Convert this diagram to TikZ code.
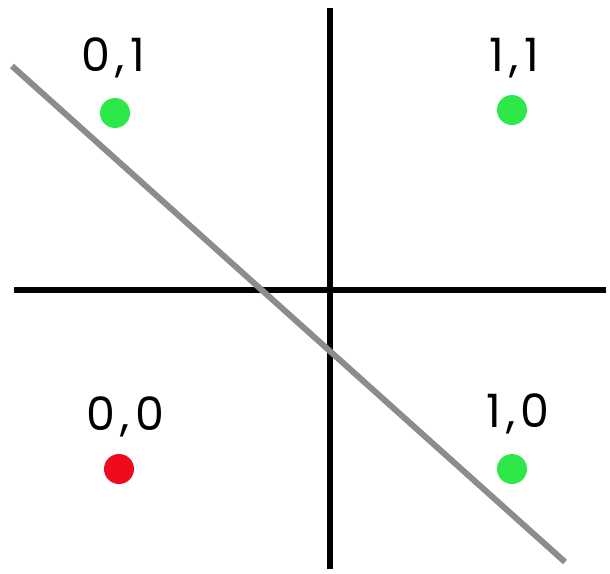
\documentclass[tikz,border=0pt]{standalone}
\usepackage{fontspec}
\setmainfont{Poppins}
\usepackage{tikz}
\definecolor{ongreen}{RGB}{44,232,72}
\definecolor{offred}{RGB}{240,10,30}

\begin{document}
\begin{tikzpicture}[x=1pt,y=-1pt,
    every node/.style={font=\fontsize{46}{50}\selectfont\addfontfeature{LetterSpace=12}},
    pt/.style={circle,inner sep=0pt,minimum size=30pt},
    axis/.style={line width=6pt},
    cut/.style={line width=6pt,color=gray!90}]
  \useasboundingbox (0,0) rectangle (610,573);
  % axes
  \coordinate (top) at (330,8);
  \coordinate (bot) at (330,569);
  \coordinate (lft) at (14,290);
  \coordinate (rgt) at (606,290);
  \draw[axis] (top) -- (bot);
  \draw[axis] (lft) -- (rgt);
  % the four inputs
  \node[pt,fill=ongreen] (p01) at (115,113) {};
  \node[pt,fill=ongreen] (p11) at (512,110) {};
  \node[pt,fill=offred] (p00) at (119,469) {};
  \node[pt,fill=ongreen] (p10) at (512,469) {};
  \node (l01) at (113,58) {0,1};
  \node (l11) at (514,58) {1,1};
  \node (l00) at (125,417) {0,0};
  \node (l10) at (518,414) {1,0};
  % separating line
  \coordinate (ca) at (12,66);
  \coordinate (cb) at (565,562);
  \draw[cut] (ca) -- (cb);
\end{tikzpicture}
\end{document}
